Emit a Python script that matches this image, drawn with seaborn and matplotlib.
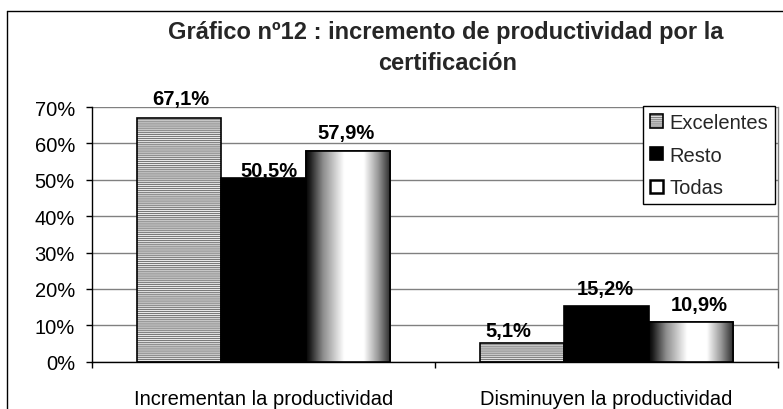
import numpy as np
import pandas as pd
import matplotlib
matplotlib.use("Agg")
import matplotlib.pyplot as plt
import seaborn as sns
from matplotlib.patches import Rectangle, Patch
from matplotlib.lines import Line2D
from matplotlib.legend_handler import HandlerTuple

# ---- data ----
categories = ["Incrementan la productividad", "Disminuyen la productividad"]
series = ["Excelentes", "Resto", "Todas"]
excelentes = [67.1, 5.1]
resto = [50.5, 15.2]
todas = [57.9, 10.9]
yticks = [0, 10, 20, 30, 40, 50, 60, 70]
title_lines = ["Gráfico nº12 : incremento de productividad por la", "certificación"]

# ---- label layout tweaks (pixels) ----
label_dx = [[2, -13.5], [5, -1.5], [-1.5, 8.5]]
label_gap = [[14, 7], [2, 12], [13, 12]]

sns.set_theme(style="white")
plt.rcParams["font.family"] = ["Liberation Sans", "DejaVu Sans"]
plt.rcParams["hatch.linewidth"] = 0.9

df = pd.DataFrame({
    "categoria": categories * 3,
    "serie": np.repeat(series, len(categories)),
    "valor": excelentes + resto + todas,
})

W, H = 783, 410
fig = plt.figure(figsize=(W / 100, H / 100), dpi=100)
ax_left, ax_right, ax_top, ax_bot = 92, 778, 108, 362.7
ax = fig.add_axes([ax_left / W, 1 - ax_bot / H, (ax_right - ax_left) / W, (ax_bot - ax_top) / H])

sns.barplot(data=df, x="categoria", y="valor", hue="serie", order=categories,
            hue_order=series, palette=["white", "black", "white"], width=0.738,
            saturation=1, edgecolor="black", linewidth=1.2, ax=ax, legend=False,
            zorder=3)

ax.set_axisbelow(True)

# Excelentes: gray horizontal stripes
for bar in ax.containers[0]:
    bar.set_hatch("--------")
    bar.set_edgecolor("#7a7a7a")
    bar.set_linewidth(0)
    x0, y0 = bar.get_xy()
    ax.add_patch(Rectangle((x0, y0), bar.get_width(), bar.get_height(), fill=False,
                           edgecolor="black", linewidth=1.2, zorder=4))

# Todas: horizontal metallic gradient
xs = np.linspace(0, 1, 256)
grad = np.interp(xs, [0, 0.04, 0.2, 0.45, 0.68, 0.85, 1.0],
                 [0.02, 0.1, 0.55, 1.0, 1.0, 0.6, 0.15])
for bar in ax.containers[2]:
    x0, y0 = bar.get_xy()
    w, h = bar.get_width(), bar.get_height()
    im = ax.imshow(grad[np.newaxis, :], extent=[x0, x0 + w, y0, y0 + h], aspect="auto",
                   cmap="gray", vmin=0, vmax=1, zorder=3.5, interpolation="bilinear")
    im.set_clip_path(bar)
    ax.add_patch(Rectangle((x0, y0), w, h, fill=False, edgecolor="black",
                           linewidth=1.2, zorder=4))

ax.set_xlim(-0.5, 1.5)
ax.set_ylim(0, 70)

# data labels
for si, (cont, vals) in enumerate(zip(ax.containers, [excelentes, resto, todas])):
    for ci, (bar, v) in enumerate(zip(cont, vals)):
        cx = bar.get_x() + bar.get_width() / 2
        txt = f"{v:.1f}".replace(".", ",") + "%"
        ax.annotate(txt, xy=(cx, v), xytext=(label_dx[si][ci], label_gap[si][ci]),
                    textcoords="offset pixels", ha="center", va="baseline",
                    fontsize=14.5, fontweight="bold", color="black",
                    annotation_clip=False, zorder=6)

# axes styling
ax.set_yticks(yticks)
ax.set_yticklabels([f"{t}%" for t in yticks])
ax.yaxis.grid(True, color="#808080", linewidth=1)
ax.xaxis.grid(False)
ax.set_xticks([0, 1])
ax.set_xticklabels(categories)
ax.set_xticks([-0.5, 0.5, 1.5], minor=True)
ax.tick_params(axis="x", which="major", length=0, pad=20, labelsize=14.5, colors="black")
ax.tick_params(axis="x", which="minor", length=4, width=1, color="black", direction="out", bottom=True)
ax.tick_params(axis="y", which="major", length=4.3, width=1, color="black", direction="out",
               pad=8, labelsize=14.5, left=True, labelcolor="black")
ax.set_xlabel("")
ax.set_ylabel("")
for side in ["left", "bottom"]:
    ax.spines[side].set_color("black")
    ax.spines[side].set_linewidth(1)
ax.spines["top"].set_visible(False)
ax.spines["right"].set_color("#808080")
ax.spines["right"].set_linewidth(1)
ax.patch.set_facecolor("white")

# legend
h_exc = (Patch(facecolor="white", edgecolor="#7a7a7a", hatch="--------", linewidth=0),
         Patch(facecolor="none", edgecolor="black", linewidth=1.2))
h_res = Patch(facecolor="black", edgecolor="black", linewidth=1.2)
h_tod = Patch(facecolor="white", edgecolor="black", linewidth=1.8)
leg = ax.legend([h_exc, h_res, h_tod], series, loc="upper left",
                bbox_to_anchor=(643 / W, 1 - 107 / H), bbox_transform=fig.transFigure,
                fontsize=14.5, frameon=True, fancybox=False, framealpha=1,
                edgecolor="black", borderpad=0.35, labelspacing=0.68,
                handlelength=0.65, handleheight=0.65, handletextpad=0.3,
                borderaxespad=0, handler_map={tuple: HandlerTuple(ndivide=1)})
leg.get_frame().set_linewidth(1)
leg.set_zorder(10)

# title
fig.text(446 / W, 1 - 32 / H, title_lines[0], ha="center", va="center",
         fontsize=17, fontweight="bold")
fig.text(448 / W, 1 - 63 / H, title_lines[1], ha="center", va="center",
         fontsize=17, fontweight="bold")

# chart border (left and top)
fig.add_artist(Line2D([7 / W, 7 / W], [0, 1 - 12 / H], color="black", lw=1,
                      transform=fig.transFigure))
fig.add_artist(Line2D([7 / W, 1], [1 - 12 / H, 1 - 12 / H], color="black", lw=1,
                      transform=fig.transFigure))

fig.savefig("out.png", dpi=100)
